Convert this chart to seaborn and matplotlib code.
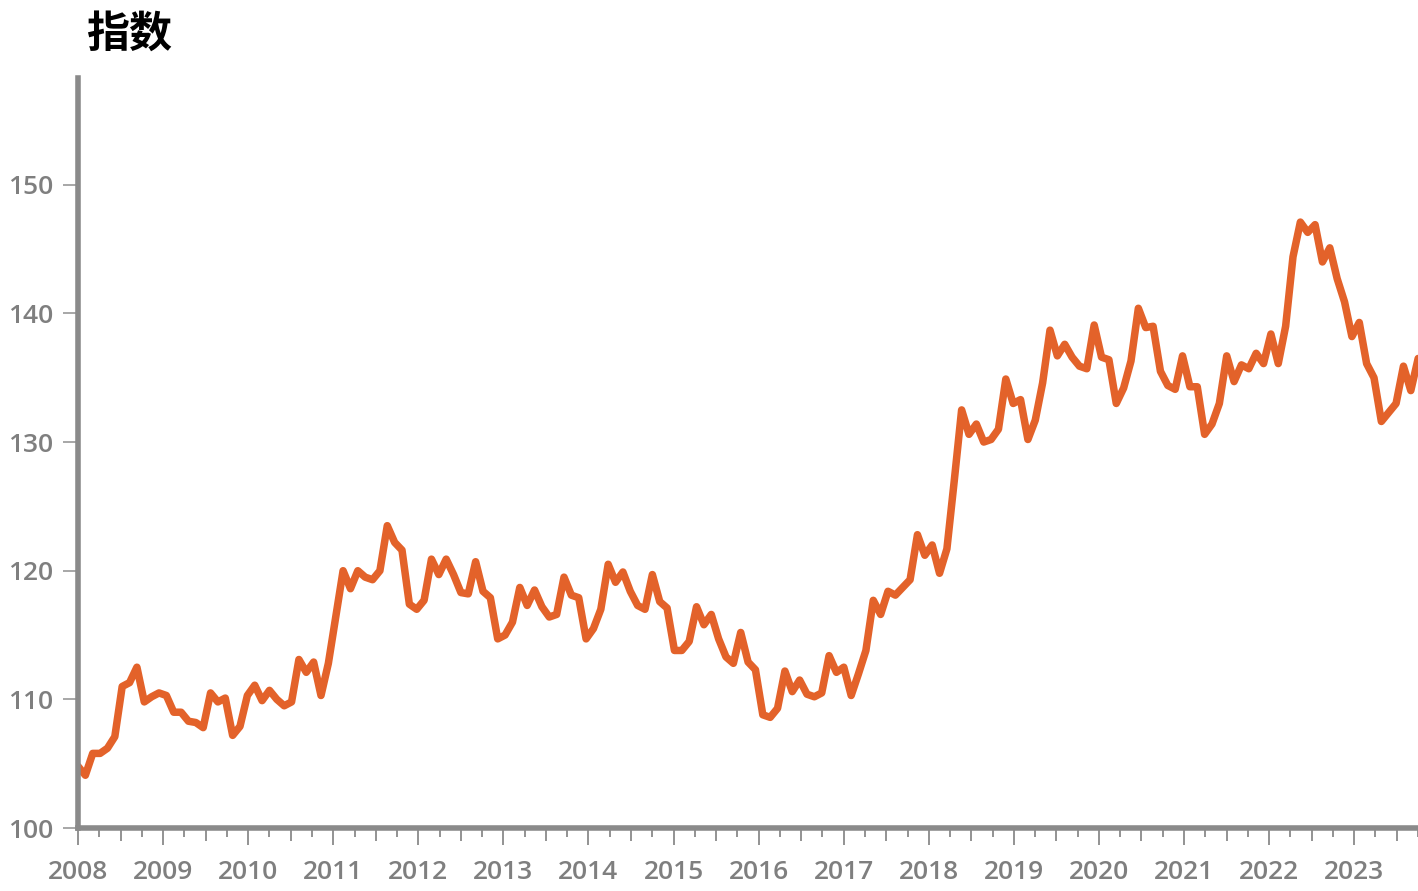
import numpy as np
import matplotlib
matplotlib.use("Agg")
import matplotlib.pyplot as plt
import seaborn as sns

index_values = [
    104.8, 104.1, 105.8, 105.8, 106.2, 107.1, 111.0, 111.3, 112.5, 109.8, 110.2, 110.5,
    110.3, 109.0, 109.0, 108.3, 108.2, 107.8, 110.5, 109.8, 110.1, 107.2, 107.9, 110.3,
    111.1, 109.9, 110.7, 110.0, 109.5, 109.8, 113.1, 112.1, 112.9, 110.3, 112.8, 116.4,
    120.0, 118.6, 120.0, 119.5, 119.3, 120.0, 123.5, 122.2, 121.6, 117.4, 117.0, 117.7,
    120.9, 119.7, 120.9, 119.7, 118.3, 118.2, 120.7, 118.4, 117.9, 114.7, 115.0, 116.0,
    118.7, 117.3, 118.5, 117.2, 116.4, 116.6, 119.5, 118.1, 117.9, 114.7, 115.5, 117.0,
    120.5, 119.1, 119.9, 118.4, 117.3, 117.0, 119.7, 117.6, 117.1, 113.8, 113.8, 114.5,
    117.2, 115.8, 116.6, 114.7, 113.3, 112.8, 115.2, 112.9, 112.3, 108.8, 108.6, 109.3,
    112.2, 110.6, 111.5, 110.4, 110.2, 110.5, 113.4, 112.1, 112.5, 110.3, 112.0, 113.8,
    117.7, 116.6, 118.4, 118.1, 118.7, 119.3, 122.8, 121.2, 122.0, 119.8, 121.7, 127.0,
    132.5, 130.6, 131.4, 130.0, 130.2, 131.0, 134.9, 133.0, 133.3, 130.2, 131.7, 134.6,
    138.7, 136.7, 137.6, 136.6, 135.9, 135.7, 139.1, 136.6, 136.4, 133.0, 134.2, 136.3,
    140.4, 138.9, 139.0, 135.5, 134.4, 134.1, 136.7, 134.3, 134.3, 130.6, 131.4, 133.0,
    136.7, 134.7, 136.0, 135.7, 136.9, 136.1, 138.4, 136.1, 139.0, 144.4, 147.1, 146.3,
    146.9, 144.0, 145.1, 142.7, 140.9, 138.2, 139.3, 136.1, 135.0, 131.6, 132.3, 133.0,
    135.9, 134.0, 136.5,
]
first_obs = 2008.0
last_obs = 2023.752
years = np.linspace(first_obs, last_obs, len(index_values))

year_ticks = list(range(2008, 2024))
y_ticks = [100, 110, 120, 130, 140, 150]
title = "指数"

line_color = "#E3622A"
axis_gray = "#8a8a8a"
label_gray = "#7f7f7f"

sns.set_style("white")
plt.rcParams["font.family"] = ["Open Sans", "DejaVu Sans"]
plt.rcParams["font.weight"] = "semibold"

fig = plt.figure(figsize=(14.18, 8.91), dpi=100)
ax = fig.add_axes([78 / 1418, 63 / 891, 1340 / 1418, 750 / 891])

sns.lineplot(x=years, y=index_values, ax=ax, color=line_color, linewidth=5.4,
             solid_capstyle="round", solid_joinstyle="round")

ax.set_xlim(2008, 2023.728)
ax.set_ylim(100, 158.3)

for side in ["top", "right"]:
    ax.spines[side].set_visible(False)
for side in ["left", "bottom"]:
    ax.spines[side].set_color(axis_gray)
    ax.spines[side].set_linewidth(4)

ax.set_xticks(year_ticks)
ax.set_xticklabels([str(y) for y in year_ticks])
ax.set_xticks([y + q for y in year_ticks for q in (0.25, 0.75)], minor=True)
ax.set_yticks(y_ticks)
ax.set_yticklabels([str(v) for v in y_ticks])

ax.tick_params(axis="x", which="major", bottom=True, length=12, width=1.3,
               color=axis_gray, labelsize=19, labelcolor=label_gray, pad=11)
ax.tick_params(axis="x", which="minor", bottom=True, length=6.5, width=1.3,
               color=axis_gray)
ax.tick_params(axis="y", which="major", left=True, length=11, width=1.3,
               color="#a0a0a0", labelsize=19, labelcolor=label_gray, pad=7)

# half-year ticks are a bit longer than the quarter ones
half = ax.secondary_xaxis("bottom")
half.set_xticks([y + 0.5 for y in year_ticks])
half.set_xticklabels([])
half.tick_params(axis="x", bottom=True, length=9.4, width=1.3, color=axis_gray)
half.spines["bottom"].set_visible(False)

ax.set_xlabel("")
ax.set_ylabel("")
ax.grid(False)

fig.text(86 / 1418, 1 - 34 / 891, title, ha="left", va="center",
         fontsize=31, fontweight="bold", color="black",
         family=["Noto Sans CJK SC", "DejaVu Sans"])

fig.savefig("out.png", dpi=100)
